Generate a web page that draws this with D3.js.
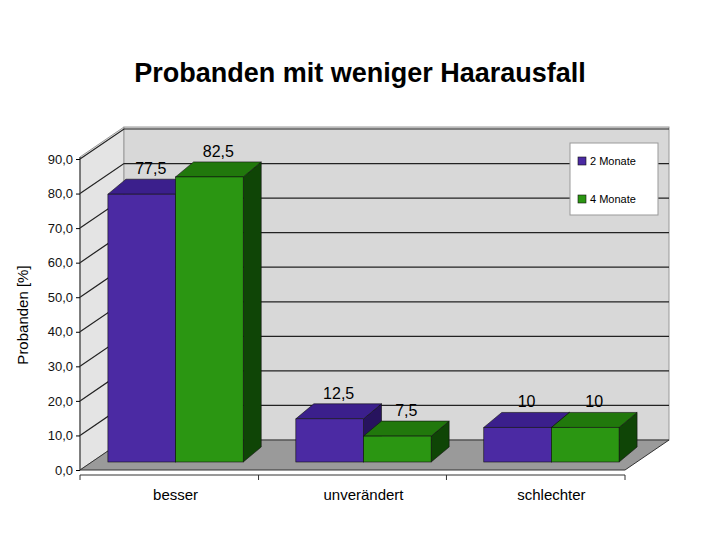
<!DOCTYPE html>
<html><head><meta charset="utf-8">
<script src="https://cdn.jsdelivr.net/npm/d3@7"></script>
<style>body{margin:0;background:#fff}</style>
</head><body>
<script>
const categories = ['besser', 'unverändert', 'schlechter']
const series = ['2 Monate', '4 Monate']
const months2 = [77.5, 12.5, 10]
const months4 = [82.5, 7.5, 10]
const yTicks = [0, 10, 20, 30, 40, 50, 60, 70, 80, 90]

const W = 720, H = 540
const left = 80, right = 625, base = 470
const dx = 44, dy = -30          // wall depth
const bx = 11, by = -8           // bar front offset
const bdx = 18, bdy = -15        // bar depth
const fills = ['#4b2aa3', '#2b9612'], tops = ['#3b1f8c', '#21780c'], sides = ['#27135e', '#0f4506']

const svg = d3.select('body').append('svg').attr('width', W).attr('height', H)
  .style('font-family', 'Liberation Sans, Arial, sans-serif')

const y = d3.scaleLinear().domain([0, 90]).range([base, 159])
const x = d3.scaleBand().domain(categories).range([left, right]).paddingInner(0.28).paddingOuter(0.09)
const xs = d3.scaleBand().domain(series).range([0, x.bandwidth()])

svg.append('text').attr('x', 360).attr('y', 82).attr('text-anchor', 'middle')
  .style('font-family', 'Liberation Sans Narrow, Arial Narrow, sans-serif')
  .style('font-weight', 'bold').style('font-size', '27px').text('Probanden mit weniger Haarausfall')

// walls
const wallTop = y(90) - 2
svg.append('path').attr('d', `M${left},${wallTop}L${left + dx},${wallTop + dy}L${left + dx},${base + dy}L${left},${base}Z`)
  .attr('fill', '#e4e4e4').attr('stroke', '#999')
svg.append('rect').attr('x', left + dx).attr('y', wallTop + dy).attr('width', right - left)
  .attr('height', base - wallTop).attr('fill', '#d8d8d8').attr('stroke', '#999')
svg.selectAll('.grid').data(yTicks.slice(1)).enter().append('path')
  .attr('d', d => `M${left},${y(d)}L${left + dx},${y(d) + dy}L${right + dx},${y(d) + dy}`)
  .attr('fill', 'none').attr('stroke', '#222').attr('stroke-width', 1.2)
svg.append('path').attr('d', `M${left},${base}L${right},${base}L${right + dx},${base + dy}L${left + dx},${base + dy}Z`)
  .attr('fill', '#9a9a9a').attr('stroke', '#333')

// axes
svg.append('line').attr('x1', left).attr('x2', left).attr('y1', wallTop).attr('y2', base).attr('stroke', '#333')
svg.append('line').attr('x1', left).attr('x2', right).attr('y1', base + 5).attr('y2', base + 5).attr('stroke', '#333')
const yAxis = svg.append('g').attr('transform', `translate(${left},0)`)
  .call(d3.axisLeft(y).tickValues(yTicks).tickSize(4).tickFormat(d => d3.format('.1f')(d).replace('.', ',')))
yAxis.select('.domain').remove()
yAxis.selectAll('text').style('font-size', '13px').attr('fill', '#111')
const bounds = [left, ...categories.map(c => x(c) + x.bandwidth() + x.step() * x.paddingInner() / 2)]
bounds[3] = right
svg.selectAll('.xt').data(bounds).enter().append('line')
  .attr('x1', d => d).attr('x2', d => d).attr('y1', base + 5).attr('y2', base + 10).attr('stroke', '#333')
svg.selectAll('.xl').data(categories).enter().append('text')
  .attr('x', d => x(d) + x.bandwidth() / 2 + bx).attr('y', 500).attr('text-anchor', 'middle')
  .style('font-size', '15px').text(d => d)
svg.append('text').attr('transform', 'translate(28,315) rotate(-90)').attr('text-anchor', 'middle')
  .style('font-size', '15px').text('Probanden [%]')

// bars
const data = []
categories.forEach((c, i) => { data.push({ c, s: 0, v: months2[i] }); data.push({ c, s: 1, v: months4[i] }) })
const scale = (base - y(1))
const g = svg.selectAll('.bar').data(data).enter().append('g')
g.each(function (d) {
  const el = d3.select(this)
  const x0 = x(d.c) + xs(series[d.s]) + bx, w = xs.bandwidth()
  const b = base + by, t = b - d.v * scale
  el.append('path').attr('d', `M${x0 + w},${b}L${x0 + w + bdx},${b + bdy}L${x0 + w + bdx},${t + bdy}L${x0 + w},${t}Z`)
    .attr('fill', sides[d.s]).attr('stroke', '#111').attr('stroke-width', 0.6)
  el.append('path').attr('d', `M${x0},${t}L${x0 + bdx},${t + bdy}L${x0 + w + bdx},${t + bdy}L${x0 + w},${t}Z`)
    .attr('fill', tops[d.s]).attr('stroke', '#111').attr('stroke-width', 0.6)
  el.append('rect').attr('x', x0).attr('y', t).attr('width', w).attr('height', b - t)
    .attr('fill', fills[d.s]).attr('stroke', '#111').attr('stroke-width', 0.6)
  el.append('text').attr('x', x0 + w / 2 + bdx / 2).attr('y', t + bdy - 5).attr('text-anchor', 'middle')
    .style('font-size', '16px').text(String(d.v).replace('.', ','))
})

// legend
const lg = svg.append('g').attr('transform', 'translate(570,143)')
lg.append('rect').attr('width', 88).attr('height', 72).attr('fill', '#fff').attr('stroke', '#999')
series.forEach((s, i) => {
  lg.append('rect').attr('x', 8).attr('y', 14 + i * 38).attr('width', 8).attr('height', 8)
    .attr('fill', fills[i]).attr('stroke', '#111').attr('stroke-width', 0.6)
  lg.append('text').attr('x', 20).attr('y', 22 + i * 38).style('font-size', '11px').text(s)
})
</script>
</body></html>
